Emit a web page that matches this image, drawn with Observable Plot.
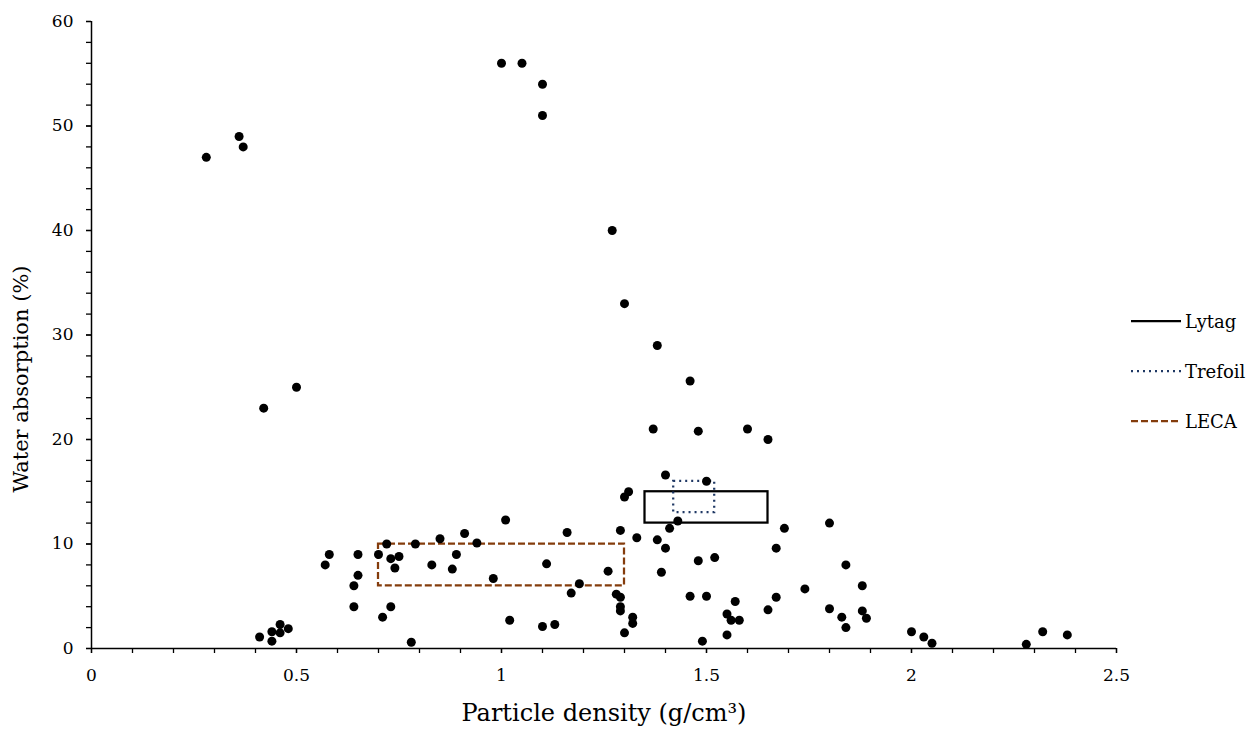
<!DOCTYPE html>
<html>
<head>
<meta charset="utf-8">
<script src="https://cdn.jsdelivr.net/npm/d3@7"></script>
<script src="https://cdn.jsdelivr.net/npm/@observablehq/plot@0.6"></script>
<style>
  html, body { margin: 0; padding: 0; background: #fff; }
  #wrap { position: relative; width: 1260px; height: 733px; font-family: "DejaVu Serif", serif; }
  #wrap svg text { font-family: "DejaVu Serif", serif; }
  #legend { position: absolute; left: 1131px; top: 309px; font-size: 18px; color: #000; }
  .item { display: flex; align-items: center; height: 24px; margin-bottom: 26px; }
  .item svg { width: 50px; height: 10px; margin-right: 4px; }
</style>
</head>
<body>
<div id="wrap"><div id="legend"></div></div>
<script>
// Particle density (g/cm³)
const density = [
  0.28, 0.36, 0.37, 1.00, 1.05, 1.10, 1.10, 1.27, 1.30, 0.42,
  0.50, 0.41, 0.44, 0.44, 0.46, 0.46, 0.48, 0.57, 0.58, 0.65,
  0.65, 0.64, 0.64, 0.70, 0.72, 0.73, 0.75, 0.74, 0.71, 0.73,
  0.78, 0.79, 0.83, 0.85, 0.88, 0.89, 0.91, 0.94, 0.98, 1.01,
  1.02, 1.38, 1.46, 1.37, 1.48, 1.60, 1.65, 1.40, 1.50, 1.31,
  1.30, 1.43, 1.41, 1.16, 1.29, 1.33, 1.38, 1.40, 1.11, 1.26,
  1.19, 1.17, 1.28, 1.29, 1.29, 1.29, 1.32, 1.32, 1.30, 1.10,
  1.13, 1.39, 1.48, 1.52, 1.46, 1.50, 1.57, 1.55, 1.56, 1.58,
  1.55, 1.49, 1.69, 1.67, 1.67, 1.65, 1.74, 1.80, 1.84, 1.88,
  1.80, 1.83, 1.84, 1.88, 1.89, 2.00, 2.03, 2.05, 2.28, 2.32,
  2.38
];
// Water absorption (%)
const absorption = [
  47, 49, 48, 56, 56, 54, 51, 40, 33, 23,
  25, 1.1, 0.7, 1.6, 2.3, 1.5, 1.9, 8.0, 9.0, 9.0,
  7.0, 6.0, 4.0, 9.0, 10.0, 8.6, 8.8, 7.7, 3.0, 4.0,
  0.6, 10.0, 8.0, 10.5, 7.6, 9.0, 11.0, 10.1, 6.7, 12.3,
  2.7, 29, 25.6, 21, 20.8, 21, 20, 16.6, 16.0, 15.0,
  14.5, 12.2, 11.5, 11.1, 11.3, 10.6, 10.4, 9.6, 8.1, 7.4,
  6.2, 5.3, 5.2, 4.9, 4.0, 3.6, 3.0, 2.4, 1.5, 2.1,
  2.3, 7.3, 8.4, 8.7, 5.0, 5.0, 4.5, 3.3, 2.7, 2.7,
  1.3, 0.7, 11.5, 9.6, 4.9, 3.7, 5.7, 12.0, 8.0, 6.0,
  3.8, 3.0, 2.0, 3.6, 2.9, 1.6, 1.1, 0.5, 0.4, 1.6,
  1.3
];

// Aggregate ranges (boxes)
const boxNames = ["Lytag", "Trefoil", "LECA"];
const boxDensityMin = [1.35, 1.42, 0.70];
const boxDensityMax = [1.65, 1.52, 1.30];
const boxAbsMin = [12, 13, 6];
const boxAbsMax = [15, 16, 10];

// Tick values
const xMajorTicks = [0, 0.5, 1, 1.5, 2, 2.5];
const xMinorTicks = [0, 0.1, 0.2, 0.3, 0.4, 0.5, 0.6, 0.7, 0.8, 0.9, 1, 1.1, 1.2, 1.3, 1.4, 1.5, 1.6, 1.7, 1.8, 1.9, 2, 2.1, 2.2, 2.3, 2.4, 2.5];
const yMajorTicks = [0, 10, 20, 30, 40, 50, 60];
const yMinorTicks = [0, 2, 4, 6, 8, 10, 12, 14, 16, 18, 20, 22, 24, 26, 28, 30, 32, 34, 36, 38, 40, 42, 44, 46, 48, 50, 52, 54, 56, 58, 60];

const boxStyle = {
  Lytag:   {stroke: "#000000", strokeWidth: 2.25, dash: null},
  Trefoil: {stroke: "#1F3864", strokeWidth: 2.25, dash: "2,4"},
  LECA:    {stroke: "#843C0C", strokeWidth: 2.25, dash: "7,3"}
};

const points = density.map((d, i) => ({x: d, y: absorption[i]}));
const boxes = boxNames.map((n, i) => ({name: n, x1: boxDensityMin[i], x2: boxDensityMax[i], y1: boxAbsMin[i], y2: boxAbsMax[i]}));
const boxMarks = boxes.map(b => Plot.rect([b], {
  x1: "x1", x2: "x2", y1: "y1", y2: "y2", fill: "none",
  stroke: boxStyle[b.name].stroke, strokeWidth: boxStyle[b.name].strokeWidth,
  strokeDasharray: boxStyle[b.name].dash || undefined
}));

const chart = Plot.plot({
  width: 1260, height: 733,
  marginLeft: 91, marginRight: 144, marginTop: 21, marginBottom: 85,
  x: {domain: [0, 2.5]}, y: {domain: [0, 60]},
  style: {fontSize: "17px", color: "#000", background: "white", overflow: "visible"},
  marks: [
    ...boxMarks,
    Plot.dot(points, {x: "x", y: "y", r: 4.5, fill: "#000", stroke: "none"}),
    Plot.ruleY([0], {stroke: "#000", strokeWidth: 1.5}),
    Plot.ruleX([0], {stroke: "#000", strokeWidth: 1.5}),
    Plot.axisX({ticks: xMinorTicks, tickSize: 5, strokeWidth: 1.3, tickFormat: () => "", label: null}),
    Plot.axisX({ticks: xMajorTicks, tickSize: 5, strokeWidth: 1.3, tickPadding: 15, tickFormat: d => String(d), label: null, fontSize: 17}),
    Plot.axisY({ticks: yMinorTicks, tickSize: 5, strokeWidth: 1.3, tickFormat: () => "", label: null}),
    Plot.axisY({ticks: yMajorTicks, tickSize: 5, strokeWidth: 1.3, tickPadding: 13, tickFormat: d => String(d), label: null, fontSize: 17}),
    Plot.text(["Particle density (g/cm³)"], {frameAnchor: "bottom", dy: 65, lineAnchor: "middle", textAnchor: "middle", fontSize: 24, fill: "#000"}),
    Plot.text(["Water absorption (%)"], {frameAnchor: "left", dx: -70, dy: 44, rotate: -90, lineAnchor: "middle", textAnchor: "middle", fontSize: 21, fill: "#000"})
  ]
});
document.getElementById("wrap").prepend(chart);

// Legend
const legend = document.getElementById("legend");
boxNames.forEach(n => {
  const s = boxStyle[n];
  const item = document.createElement("div");
  item.className = "item";
  item.innerHTML = `<svg viewBox="0 0 50 10"><line x1="0" y1="5" x2="50" y2="5" stroke="${s.stroke}" stroke-width="${s.strokeWidth}" ${s.dash ? `stroke-dasharray="${s.dash}"` : ""}/></svg><span>${n}</span>`;
  legend.appendChild(item);
});
</script>
</body>
</html>
